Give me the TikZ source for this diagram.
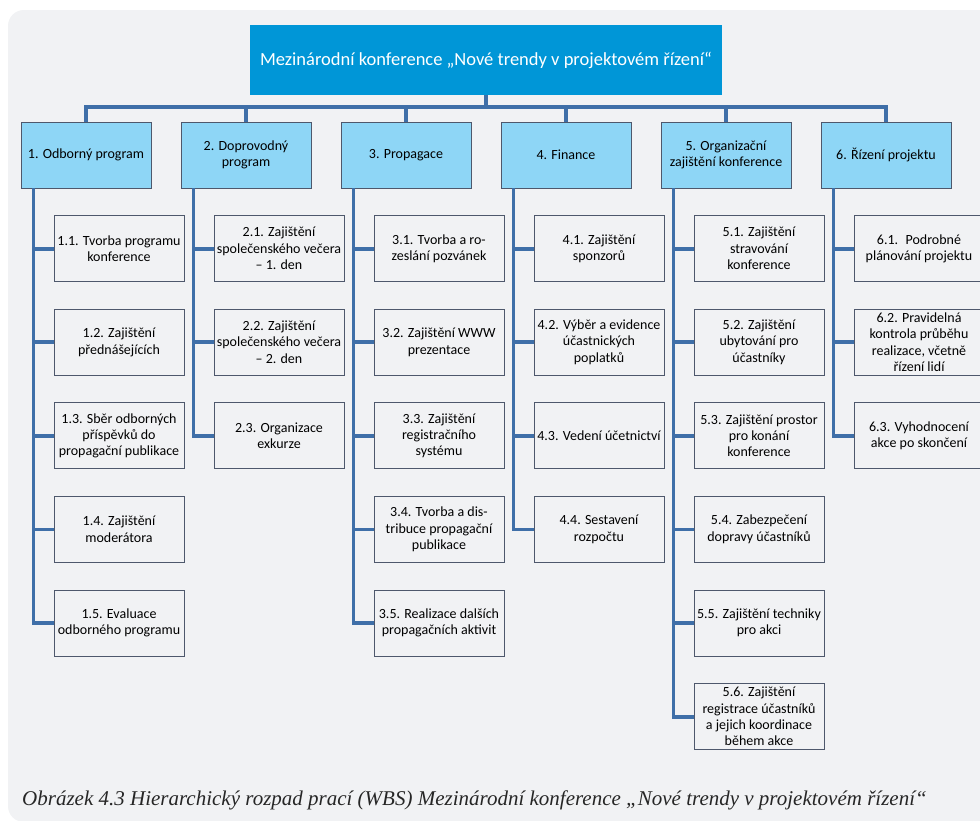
\documentclass[tikz,border=0pt]{standalone}
\usepackage{fontspec}
\setmainfont{Carlito}
\newfontfamily\capfont{Liberation Serif}

\definecolor{panel}{RGB}{241,242,244}
\definecolor{rootblue}{RGB}{0,150,215}
\definecolor{phaseblue}{RGB}{142,214,246}
\definecolor{boxline}{RGB}{78,88,108}
\definecolor{linkblue}{RGB}{63,111,168}

\begin{document}
\begin{tikzpicture}[x=1pt,y=-1pt]
	\tikzset{
		root/.style = {fill=rootblue, text=white, minimum width=472pt, minimum height=70pt,
			font=\fontsize{18.5}{22}\selectfont},
		phase/.style = {draw=boxline, line width=0.9pt, fill=phaseblue, minimum width=130pt,
			minimum height=66pt, inner sep=1pt, align=center, font=\fontsize{14}{16.6}\selectfont},
		task/.style = {draw=boxline, line width=0.9pt, minimum width=130pt, minimum height=66pt,
			inner sep=1pt, align=center, font=\fontsize{14}{16.4}\selectfont},
		link/.style = {draw=linkblue, line width=3.8pt}
	}
	\useasboundingbox (0,0) rectangle (980,820);
	\fill[white] (0,0) rectangle (980,820);
	\fill[panel, rounded corners=16pt] (8,10) rectangle (1000,822);

	\node[root] (R) at (486,60) {Mezinárodní konference „Nové trendy v projektovém řízení“};
		\node[phase] (P1) at (86,155) {1. Odborný program};
		\node[phase] (P2) at (246,155) {2. Doprovodný\\program};
		\node[phase] (P3) at (406,155) {3. Propagace};
		\node[phase] (P4) at (566,155) {4. Finance};
		\node[phase] (P5) at (726,155) {5. Organizační\\zajištění konference};
		\node[phase] (P6) at (886,155) {6. Řízení projektu};

		\node[task] (T11) at (119,248.6) {1.1. Tvorba programu\\konference};
		\node[task] (T12) at (119,342.2) {1.2. Zajištění\\přednášejících};
		\node[task] (T13) at (119,435.8) {1.3. Sběr odborných\\příspěvků do\\propagační publikace};
		\node[task] (T14) at (119,529.4) {1.4. Zajištění\\moderátora};
		\node[task] (T15) at (119,623) {1.5. Evaluace\\odborného programu};

		\node[task] (T21) at (279,248.6) {2.1. Zajištění\\společenského večera\\– 1. den};
		\node[task] (T22) at (279,342.2) {2.2. Zajištění\\společenského večera\\– 2. den};
		\node[task] (T23) at (279,435.8) {2.3. Organizace\\exkurze};

		\node[task] (T31) at (439,248.6) {3.1. Tvorba a ro-\\zeslání pozvánek};
		\node[task] (T32) at (439,342.2) {3.2. Zajištění WWW\\prezentace};
		\node[task] (T33) at (439,435.8) {3.3. Zajištění\\registračního\\systému};
		\node[task] (T34) at (439,529.4) {3.4. Tvorba a dis-\\tribuce propagační\\publikace};
		\node[task] (T35) at (439,623) {3.5. Realizace dalších\\propagačních aktivit};

		\node[task] (T41) at (599,248.6) {4.1. Zajištění\\sponzorů};
		\node[task] (T42) at (599,342.2) {4.2. Výběr a evidence\\účastnických\\poplatků};
		\node[task] (T43) at (599,435.8) {4.3. Vedení účetnictví};
		\node[task] (T44) at (599,529.4) {4.4. Sestavení\\rozpočtu};

		\node[task] (T51) at (759,248.6) {5.1. Zajištění\\stravování\\konference};
		\node[task] (T52) at (759,342.2) {5.2. Zajištění\\ubytování pro\\účastníky};
		\node[task] (T53) at (759,435.8) {5.3. Zajištění prostor\\pro konání\\konference};
		\node[task] (T54) at (759,529.4) {5.4. Zabezpečení\\dopravy účastníků};
		\node[task] (T55) at (759,623) {5.5. Zajištění techniky\\pro akci};
		\node[task] (T56) at (759,716.6) {5.6. Zajištění\\registrace účastníků\\a jejich koordinace\\během akce};

		\node[task] (T61) at (919,248.6) {6.1.~ Podrobné\\plánování projektu};
		\node[task] (T62) at (919,342.2) {6.2. Pravidelná\\kontrola průběhu\\realizace, včetně\\řízení lidí};
		\node[task] (T63) at (919,435.8) {6.3. Vyhodnocení\\akce po skončení};

	% root to phases
		\draw[link] (R.south) -- ++(0,12) -| (P1.north);
		\draw[link] (R.south) -- ++(0,12) -| (P2.north);
		\draw[link] (R.south) -- ++(0,12) -| (P3.north);
		\draw[link] (R.south) -- ++(0,12) -| (P4.north);
		\draw[link] (R.south) -- ++(0,12) -| (P5.north);
		\draw[link] (R.south) -- ++(0,12) -| (P6.north);
	% phases to tasks
		\foreach \t in {1,...,5}
			\draw[link] ([xshift=13pt]P1.south west) |- (T1\t.west);
		\foreach \t in {1,...,3}
			\draw[link] ([xshift=13pt]P2.south west) |- (T2\t.west);
		\foreach \t in {1,...,5}
			\draw[link] ([xshift=13pt]P3.south west) |- (T3\t.west);
		\foreach \t in {1,...,4}
			\draw[link] ([xshift=13pt]P4.south west) |- (T4\t.west);
		\foreach \t in {1,...,6}
			\draw[link] ([xshift=13pt]P5.south west) |- (T5\t.west);
		\foreach \t in {1,...,3}
			\draw[link] ([xshift=13pt]P6.south west) |- (T6\t.west);

	\node[anchor=west, inner sep=0pt, font=\capfont\itshape\fontsize{21}{24}\selectfont, text=black!85] (C) at (22,800)
		{Obrázek 4.3 Hierarchický rozpad prací (WBS) Mezinárodní konference „Nové trendy v projektovém řízení“};
\end{tikzpicture}
\end{document}
